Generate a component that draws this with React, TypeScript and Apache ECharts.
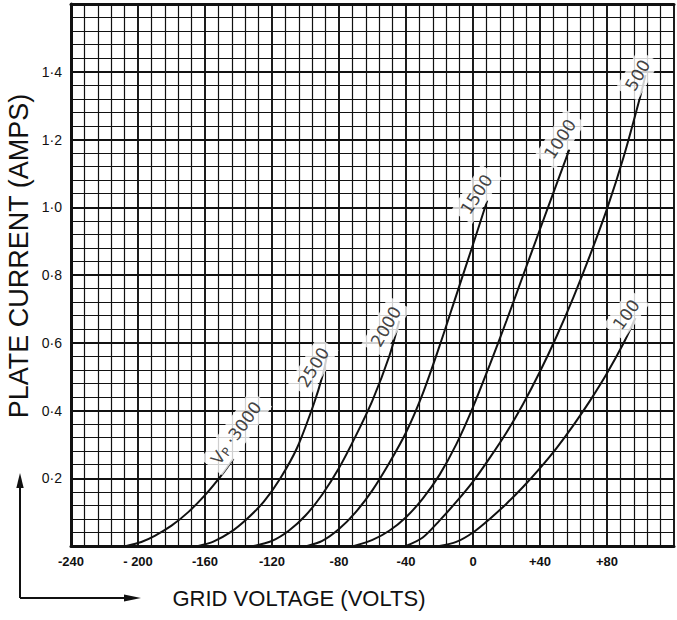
import React, { useEffect, useRef } from "react";
import * as echarts from "echarts";

// Grid voltage (V) vs plate current (A) for each plate voltage
const curve3000 = [[-207, 0], [-198, 0.012], [-190, 0.03], [-180, 0.06], [-170, 0.1], [-160, 0.15], [-150, 0.21], [-143, 0.258]];
const curve2500 = [[-164, 0], [-155, 0.013], [-145, 0.04], [-135, 0.08], [-125, 0.13], [-115, 0.2], [-105, 0.29], [-95, 0.42], [-90, 0.5], [-87, 0.565]];
const curve2000 = [[-131, 0], [-120, 0.015], [-110, 0.045], [-100, 0.09], [-90, 0.152], [-80, 0.23], [-70, 0.325], [-60, 0.43], [-50, 0.56], [-44, 0.665]];
const curve1500 = [[-99, 0], [-90, 0.015], [-80, 0.05], [-70, 0.1], [-60, 0.165], [-50, 0.245], [-40, 0.335], [-30, 0.45], [-20, 0.59], [-10, 0.74], [0, 0.89], [8.5, 1.02]];
const curve1000 = [[-71, 0], [-60, 0.018], [-50, 0.045], [-40, 0.085], [-30, 0.14], [-20, 0.21], [-10, 0.3], [0, 0.41], [10, 0.535], [20, 0.665], [30, 0.8], [40, 0.935], [50, 1.07], [57.5, 1.17]];
const curve500 = [[-40, 0], [-30, 0.025], [-20, 0.075], [-10, 0.13], [0, 0.19], [10, 0.26], [20, 0.335], [30, 0.42], [40, 0.515], [50, 0.62], [60, 0.735], [70, 0.86], [80, 0.995], [90, 1.15], [100, 1.33], [103, 1.39]];
const curve100 = [[-20, 0], [-10, 0.012], [0, 0.04], [10, 0.08], [20, 0.125], [30, 0.175], [40, 0.23], [50, 0.29], [60, 0.357], [70, 0.43], [80, 0.51], [90, 0.6], [97, 0.673]];

const curves = [curve3000, curve2500, curve2000, curve1500, curve1000, curve500, curve100];

// Curve labels: [V, I, text, rotation]
const curveLabels: [number, number, string, number][] = [
  [-141.4, 0.334, "{v|V}{p|P}{v| ·3000}", 54],
  [-95.3, 0.528, "2500", 58],
  [-52, 0.648, "2000", 60],
  [2.1, 1.038, "1500", 57],
  [52, 1.201, "1000", 57],
  [98.3, 1.39, "500", 60],
  [91.5, 0.683, "100", 54],
];

const xTickLabels = ["-240", "- 200", "-160", "-120", "-80", "-40", "0", "+40", "+80", ""];
const xMin = -240;
const xMax = 120;
const yMin = 0;
const yMax = 1.6;

export default function App() {
  const ref = useRef<HTMLDivElement>(null);
  useEffect(() => {
    if (!ref.current) return;
    const chart = echarts.init(ref.current, undefined, { renderer: "svg" });
    const ink = "#111";
    const series: any[] = curves.map((c) => ({
      type: "line",
      data: c,
      smooth: 0.3,
      showSymbol: false,
      symbol: "none",
      silent: true,
      lineStyle: { color: ink, width: 2 },
      z: 3,
    }));
    series.push({
      type: "scatter",
      silent: true,
      symbolSize: 1,
      itemStyle: { color: "rgba(0,0,0,0)" },
      z: 6,
      labelLayout: { hideOverlap: false },
      data: curveLabels.map(([x, y, t, r]) => ({
        value: [x, y],
        label: {
          show: true,
          position: "inside",
          formatter: t,
          rotate: r,
          color: ink,
          fontFamily: "DejaVu Sans",
          fontSize: 17,
          backgroundColor: "#fff",
          padding: [4, 6],
          rich: {
            v: { fontSize: 17, color: ink, fontFamily: "DejaVu Sans" },
            p: { fontSize: 12, color: ink, fontFamily: "DejaVu Sans", padding: [7, 0, 0, 0] },
          },
        },
      })),
    });

    chart.setOption({
      animation: false,
      backgroundColor: "#fff",
      grid: { left: 71, right: 0, top: 4, bottom: 74, containLabel: false },
      xAxis: [
        {
          type: "value",
          min: xMin,
          max: xMax,
          interval: 40,
          axisLine: { show: true, onZero: false, lineStyle: { color: ink, width: 3 } },
          axisTick: { show: false },
          minorTick: { show: false, splitNumber: 5 },
          splitLine: { show: true, lineStyle: { color: ink, width: 1.9 } },
          minorSplitLine: { show: true, lineStyle: { color: ink, width: 1.2 } },
          axisLabel: {
            margin: 9,
            color: ink,
            fontFamily: "Liberation Sans",
            fontWeight: "bold",
            fontSize: 13,
            formatter: (v: number) => xTickLabels[Math.round((v - xMin) / 40)] ?? "",
          },
        },
        {
          type: "value",
          position: "top",
          min: xMin,
          max: xMax,
          interval: 40,
          axisLine: { show: true, onZero: false, lineStyle: { color: ink, width: 3 } },
          axisTick: { show: false },
          axisLabel: { show: false },
          splitLine: { show: false },
        },
      ],
      yAxis: {
        type: "value",
        min: yMin,
        max: yMax,
        interval: 0.2,
        axisLine: { show: true, onZero: false, lineStyle: { color: ink, width: 3 } },
        axisTick: { show: false },
        minorTick: { show: false, splitNumber: 5 },
        splitLine: { show: true, lineStyle: { color: ink, width: 1.9 } },
        minorSplitLine: { show: true, lineStyle: { color: ink, width: 1.2 } },
        axisLabel: {
          margin: 9,
          color: ink,
          fontFamily: "Liberation Sans",
          fontSize: 14,
          formatter: (v: number) =>
            v <= 0.0001 || v >= yMax - 0.0001 ? "" : v.toFixed(1).replace(".", "·"),
        },
      },
      series,
      graphic: [
        {
          type: "text",
          x: 19,
          y: 256,
          rotation: Math.PI / 2,
          style: {
            text: "PLATE CURRENT (AMPS)",
            fill: ink,
            font: '27px "Liberation Sans"',
            align: "center",
            verticalAlign: "middle",
          },
        },
        {
          type: "text",
          x: 299,
          y: 598,
          style: {
            text: "GRID VOLTAGE (VOLTS)",
            fill: ink,
            font: '22px "Liberation Sans"',
            align: "center",
            verticalAlign: "middle",
          },
        },
        { type: "line", shape: { x1: 20, y1: 598, x2: 20, y2: 484 }, style: { stroke: ink, lineWidth: 2 } },
        { type: "polygon", shape: { points: [[20, 473], [16.3, 488], [23.7, 488]] }, style: { fill: ink } },
        { type: "line", shape: { x1: 20, y1: 598, x2: 128, y2: 598 }, style: { stroke: ink, lineWidth: 2 } },
        { type: "polygon", shape: { points: [[141, 598], [124, 594.5], [124, 601.5]] }, style: { fill: ink } },
      ],
    });
    return () => chart.dispose();
  }, []);
  return (
    <div
      ref={ref}
      style={{ position: "absolute", left: 0, top: 0, width: 677, height: 620 }}
    />
  );
}
